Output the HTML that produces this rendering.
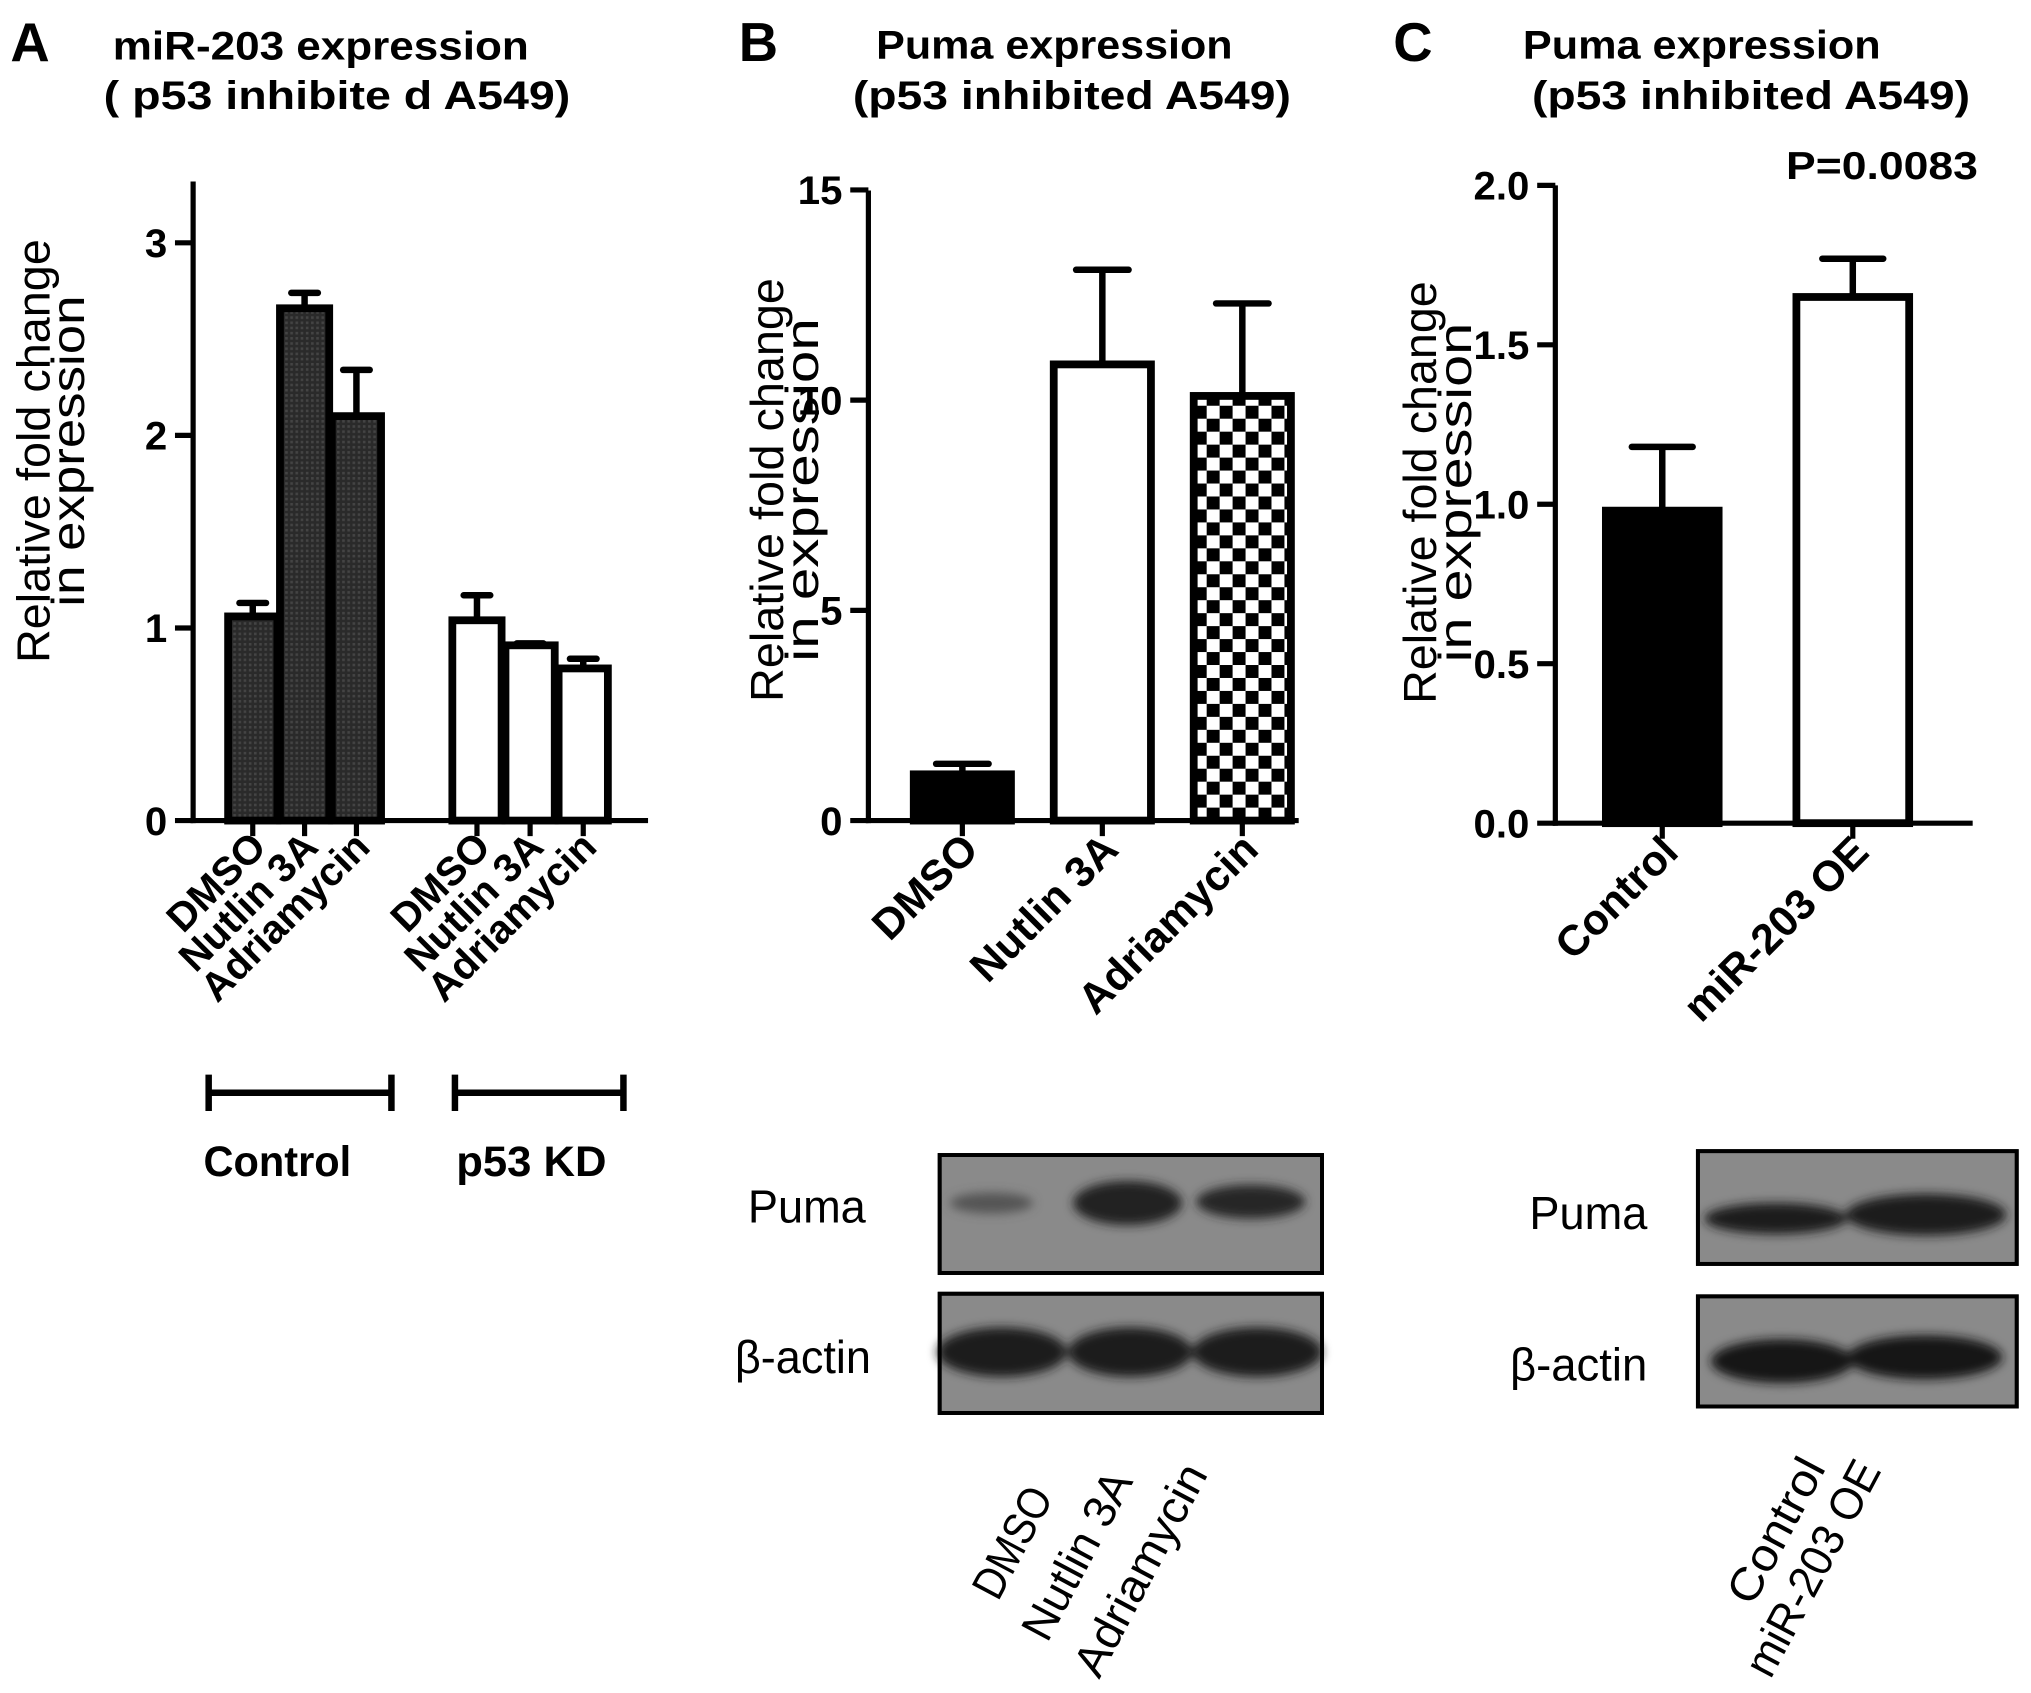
<!DOCTYPE html>
<html><head><meta charset="utf-8"><style>
html,body{margin:0;padding:0;background:#fff}
svg{display:block}
text{font-family:"Liberation Sans",Arial,sans-serif;fill:#000}
.b{font-weight:bold}
</style></head><body>
<svg id="fig" width="2031" height="1693" viewBox="0 0 1567 1306" preserveAspectRatio="none" xmlns="http://www.w3.org/2000/svg">
<defs>
<pattern id="dots" width="4" height="4" patternUnits="userSpaceOnUse"><rect width="4" height="4" fill="#2a2a2a"/><rect width="2" height="2" fill="#444"/></pattern>
<pattern id="checker" width="20" height="20" patternUnits="userSpaceOnUse" x="921" y="313"><rect width="20" height="20" fill="#fff"/><rect width="10" height="10" fill="#000"/><rect x="10" y="10" width="10" height="10" fill="#000"/></pattern>
<filter id="blur" x="-30%" y="-80%" width="160%" height="260%"><feGaussianBlur stdDeviation="4"/></filter>
</defs>
<g id="root"></g>
<text class="b" x="8" y="47" font-size="42">A</text>
<text class="b" x="87" y="46" font-size="31" textLength="321" lengthAdjust="spacingAndGlyphs">miR-203 expression</text>
<text class="b" x="80" y="84" font-size="31" textLength="360" lengthAdjust="spacingAndGlyphs">( p53 inhibite d A549)</text>
<text class="b" x="570" y="47" font-size="42">B</text>
<text class="b" x="676" y="45" font-size="31" textLength="275" lengthAdjust="spacingAndGlyphs">Puma expression</text>
<text class="b" x="658" y="84" font-size="31" textLength="338" lengthAdjust="spacingAndGlyphs">(p53 inhibited A549)</text>
<text class="b" x="1075" y="47" font-size="42">C</text>
<text class="b" x="1175" y="45" font-size="31" textLength="276" lengthAdjust="spacingAndGlyphs">Puma expression</text>
<text class="b" x="1182" y="84" font-size="31" textLength="338" lengthAdjust="spacingAndGlyphs">(p53 inhibited A549)</text>
<text class="b" x="1378" y="138" font-size="30" textLength="148" lengthAdjust="spacingAndGlyphs">P=0.0083</text>
<g stroke="#000" stroke-width="5"><line x1="160" y1="843" x2="303" y2="843"/><line x1="161" y1="829" x2="161" y2="857"/><line x1="302" y1="829" x2="302" y2="857"/></g>
<g stroke="#000" stroke-width="5"><line x1="350" y1="843" x2="482" y2="843"/><line x1="351" y1="829" x2="351" y2="857"/><line x1="481" y1="829" x2="481" y2="857"/></g>
<text class="b" x="157" y="907" font-size="33" textLength="114" lengthAdjust="spacingAndGlyphs">Control</text>
<text class="b" x="352" y="907" font-size="33" textLength="116" lengthAdjust="spacingAndGlyphs">p53 KD</text>
<g>
<rect x="725" y="891" width="295" height="91" fill="#8a8a8a" stroke="#000" stroke-width="3"/>
<rect x="725" y="998" width="295" height="92" fill="#8a8a8a" stroke="#000" stroke-width="3"/>
<g filter="url(#blur)">
<ellipse cx="765" cy="928" rx="32" ry="8" fill="#555"/>
<ellipse cx="870" cy="928" rx="42" ry="17" fill="#202020"/>
<ellipse cx="965" cy="927" rx="42" ry="13" fill="#282828"/>
<ellipse cx="773" cy="1043" rx="50" ry="19" fill="#1c1c1c"/>
<ellipse cx="872" cy="1043" rx="48" ry="19" fill="#1c1c1c"/>
<ellipse cx="970" cy="1043" rx="50" ry="19" fill="#1c1c1c"/>
</g>
<rect x="725" y="891" width="295" height="91" fill="none" stroke="#000" stroke-width="3"/>
<rect x="725" y="998" width="295" height="92" fill="none" stroke="#000" stroke-width="3"/>
</g>
<text x="577" y="943" font-size="36" textLength="91" lengthAdjust="spacingAndGlyphs">Puma</text>
<text x="567" y="1059" font-size="36" textLength="105" lengthAdjust="spacingAndGlyphs">β-actin</text>
<g>
<rect x="1310" y="888" width="246" height="87" fill="#8a8a8a" stroke="#000" stroke-width="3"/>
<rect x="1310" y="1000" width="246" height="85" fill="#8a8a8a" stroke="#000" stroke-width="3"/>
<g filter="url(#blur)">
<ellipse cx="1370" cy="940" rx="55" ry="12" fill="#1e1e1e"/>
<ellipse cx="1486" cy="937" rx="62" ry="16" fill="#1a1a1a"/>
<ellipse cx="1375" cy="1050" rx="55" ry="17" fill="#151515"/>
<ellipse cx="1485" cy="1047" rx="60" ry="17" fill="#151515"/>
</g>
<rect x="1310" y="888" width="246" height="87" fill="none" stroke="#000" stroke-width="3"/>
<rect x="1310" y="1000" width="246" height="85" fill="none" stroke="#000" stroke-width="3"/>
</g>
<text x="1180" y="948" font-size="36" textLength="91" lengthAdjust="spacingAndGlyphs">Puma</text>
<text x="1165" y="1065" font-size="36" textLength="106" lengthAdjust="spacingAndGlyphs">β-actin</text>
<text x="770" y="1236" font-size="35" transform="rotate(-62 770 1236)" textLength="92" lengthAdjust="spacingAndGlyphs">DMSO</text>
<text x="808" y="1268" font-size="35" transform="rotate(-62 808 1268)" textLength="142" lengthAdjust="spacingAndGlyphs">Nutlin 3A</text>
<text x="848" y="1296" font-size="35" transform="rotate(-62 848 1296)" textLength="180" lengthAdjust="spacingAndGlyphs">Adriamycin</text>
<text x="1352" y="1240" font-size="35" transform="rotate(-62 1352 1240)" textLength="122" lengthAdjust="spacingAndGlyphs">Control</text>
<text x="1366" y="1296" font-size="35" transform="rotate(-62 1366 1296)" textLength="183" lengthAdjust="spacingAndGlyphs">miR-203 OE</text>
</svg>
<script>
// Panel A data
const aCategories = ["DMSO","Nutlin 3A","Adriamycin","DMSO","Nutlin 3A","Adriamycin"];
const aValues = [1.06, 2.66, 2.1, 1.04, 0.91, 0.79];
const aErrors = [0.07, 0.08, 0.24, 0.13, 0.01, 0.05];
const aTicks = [0, 1, 2, 3];
// Panel B data
const bCategories = ["DMSO","Nutlin 3A","Adriamycin"];
const bValues = [1.1, 10.85, 10.1];
const bErrors = [0.25, 2.25, 2.2];
const bTicks = [0, 5, 10, 15];
// Panel C data
const cCategories = ["Control","miR-203 OE"];
const cValues = [0.98, 1.65];
const cErrors = [0.2, 0.12];
const cTickLabels = ["0.0","0.5","1.0","1.5","2.0"];
const cTicks = [0, 0.5, 1, 1.5, 2];

const NS = "http://www.w3.org/2000/svg";
const root = document.getElementById("root");
function el(tag, attrs, parent) {
  const e = document.createElementNS(NS, tag);
  for (const k in attrs) e.setAttribute(k, attrs[k]);
  (parent || root).appendChild(e);
  return e;
}
function panel(cfg) {
  const y = v => cfg.y0 - (v - 0) / cfg.max * (cfg.y0 - cfg.yTop);
  const g = el("g", {});
  
  
  const ya = el("line", {x1: cfg.ax, y1: cfg.axTop, x2: cfg.ax, y2: cfg.y0 + 2, stroke: "#000", "stroke-width": 4}, g);
  
  
  const xa = el("line", {x1: cfg.ax - 2, y1: cfg.y0, x2: cfg.axRight, y2: cfg.y0, stroke: "#000", "stroke-width": 4}, g);
  
  
  cfg.ticks.forEach((t, i) => {
    const ln = el("line", {x1: cfg.ax - 14, y1: y(t), x2: cfg.ax, y2: y(t), stroke: "#000", "stroke-width": 4}, g);
    
    
    const tx = el("text", {x: cfg.ax - 20, y: y(t) + 11, "font-size": 31, "text-anchor": "end", class: "b"}, g);
    tx.textContent = cfg.tickLabels ? cfg.tickLabels[i] : String(t);
    
    
  });
  cfg.values.forEach((v, i) => {
    const x0 = cfg.barX[i], w = cfg.barW, cx = x0 + w / 2;
    const top = y(v + cfg.errors[i]);
    const eb = el("g", {stroke: "#000", "stroke-width": 5}, g);
    
    
    el("line", {x1: cx, y1: y(v), x2: cx, y2: top}, eb);
    el("line", {x1: cx - w * 0.27, y1: top, x2: cx + w * 0.27, y2: top, "stroke-linecap": "round"}, eb);
    const r = el("rect", {x: x0, y: y(v), width: w, height: cfg.y0 - y(v), fill: cfg.fills[i], stroke: "#000", "stroke-width": 6}, g);
    
    
    const tk = el("line", {x1: cx, y1: cfg.y0, x2: cx, y2: cfg.y0 + 12, stroke: "#000", "stroke-width": 4}, g);
    
    
    const lx = cx + cfg.labDx, ly = cfg.y0 + cfg.labDy;
    const lt = el("text", {x: lx, y: ly, "font-size": cfg.labSize, "text-anchor": "end", class: "b", transform: `rotate(-45 ${lx} ${ly})`}, g);
    lt.textContent = cfg.categories[i];
    
    
  });
  const t1 = el("text", {x: 0, y: 0, "font-size": 36, "text-anchor": "middle", textLength: cfg.l1len, lengthAdjust: "spacingAndGlyphs", transform: `translate(${cfg.titleX} ${cfg.titleY}) rotate(-90)`}, g);
  t1.textContent = "Relative fold change";
  
  
  const t2 = el("text", {x: 0, y: 0, "font-size": 36, "text-anchor": "middle", textLength: cfg.l2len, lengthAdjust: "spacingAndGlyphs", transform: `translate(${cfg.titleX + 27} ${cfg.titleY}) rotate(-90)`}, g);
  t2.textContent = "in expression";
  
  
}
panel({name: "panel-a-chart", ax: 149, axTop: 140, axRight: 500, y0: 633, yTop: 187.3, max: 3,
  ticks: aTicks, values: aValues, errors: aErrors, categories: aCategories,
  barX: [176, 216, 256, 349, 390, 431], barW: 38,
  fills: ["url(#dots)","url(#dots)","url(#dots)","#fff","#fff","#fff"],
  labDx: 12, labDy: 22, labSize: 31, titleX: 38, titleY: 348, l1len: 327, l2len: 240});
panel({name: "panel-b-chart", ax: 670, axTop: 147, axRight: 1002, y0: 633, yTop: 146.5, max: 15,
  ticks: bTicks, values: bValues, errors: bErrors, categories: bCategories,
  barX: [705, 813, 921], barW: 75,
  fills: ["#000","#fff","url(#checker)"],
  labDx: 14, labDy: 24, labSize: 33, titleX: 604, titleY: 378, l1len: 327, l2len: 265});
panel({name: "panel-c-chart", ax: 1200, axTop: 143, axRight: 1522, y0: 635, yTop: 143, max: 2,
  ticks: cTicks, tickLabels: cTickLabels, values: cValues, errors: cErrors, categories: cCategories,
  barX: [1239, 1386], barW: 87,
  fills: ["#000","#fff"],
  labDx: 14, labDy: 24, labSize: 33, titleX: 1108, titleY: 380, l1len: 326, l2len: 262});
</script>
</body></html>
